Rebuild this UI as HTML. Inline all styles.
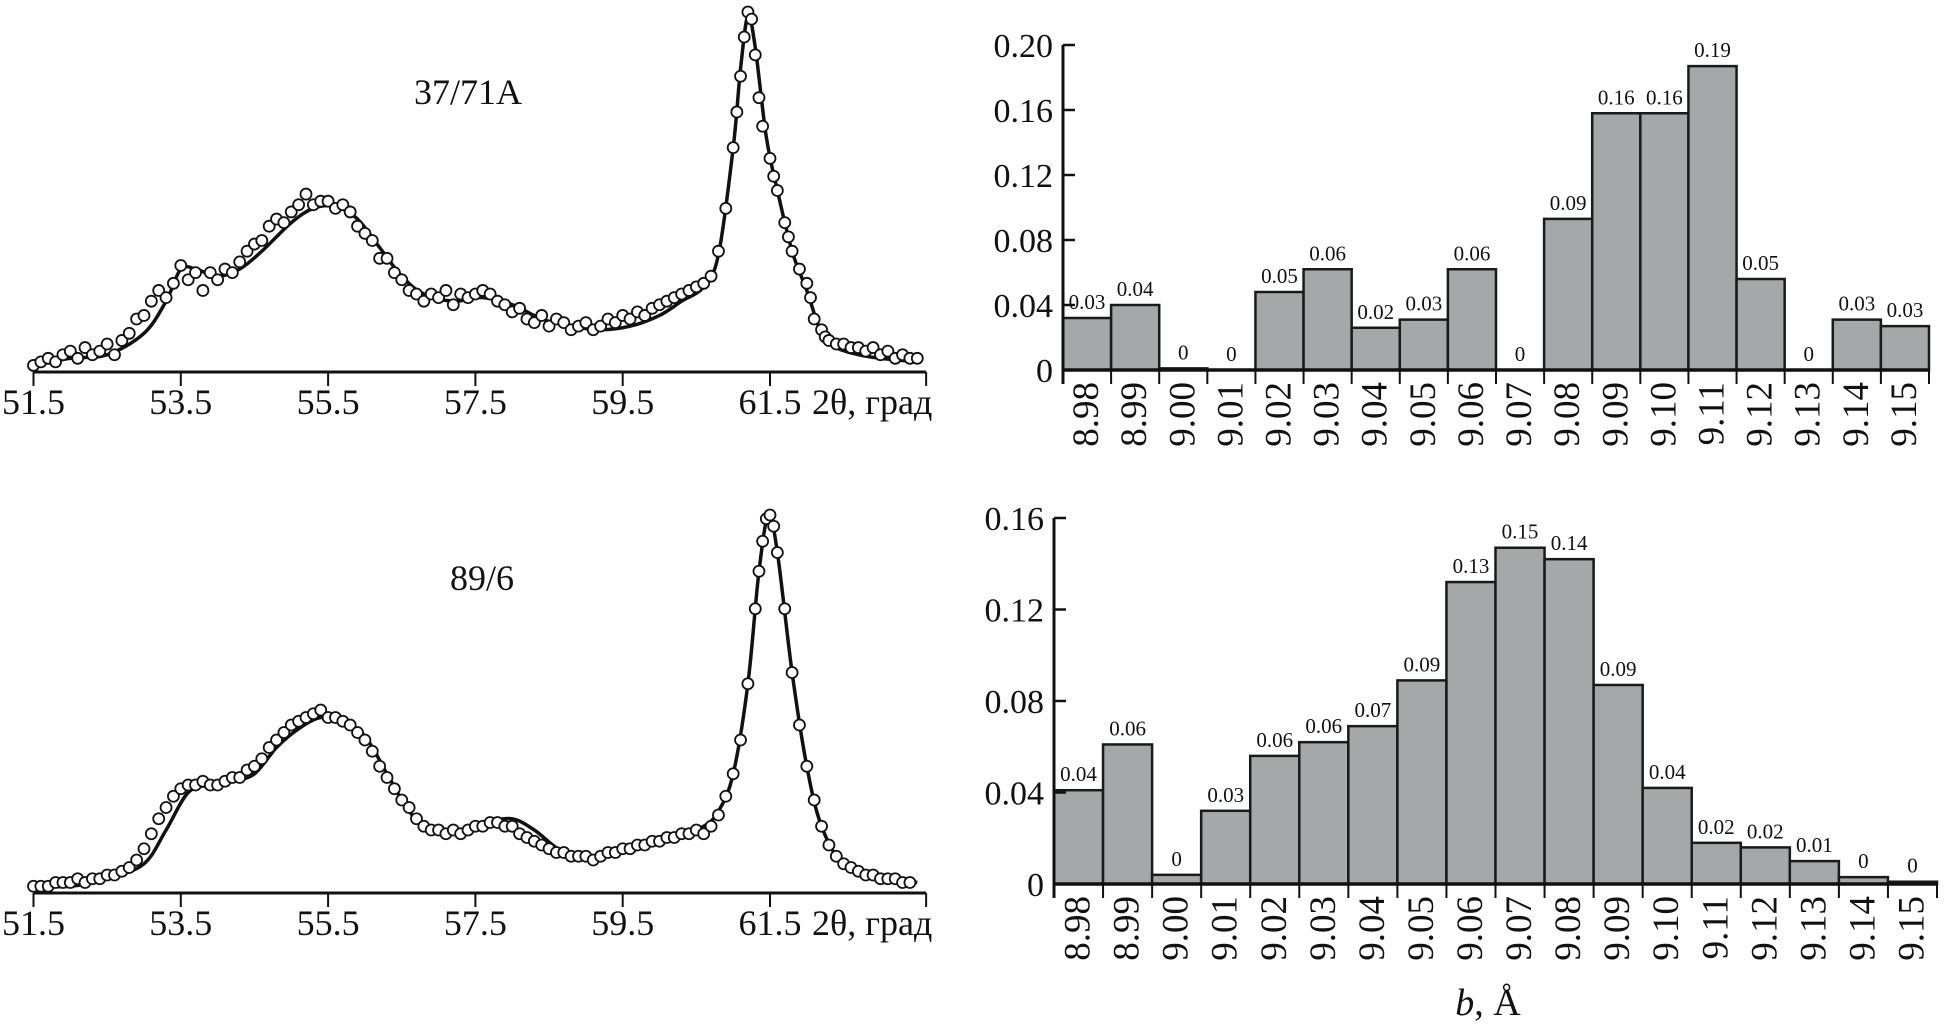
<!DOCTYPE html>
<html><head><meta charset="utf-8">
<style>
html,body{margin:0;padding:0;background:#fff;}
svg{display:block;font-family:"Liberation Serif",serif;}
</style></head>
<body>
<svg id="fig" width="1945" height="1029" viewBox="0 0 1945 1029" xmlns="http://www.w3.org/2000/svg"></svg>
<script>
// ---------- data ----------
const xrdTicks = [51.5, 53.5, 55.5, 57.5, 59.5, 61.5];
const fitTopX = [51.5,52.0,52.5,53.0,53.3,53.5,53.7,54.0,54.3,54.6,55.0,55.3,55.6,55.9,56.2,56.5,56.8,57.2,57.6,58.0,58.4,58.8,59.2,59.6,60.0,60.3,60.6,60.8,61.0,61.1,61.2,61.3,61.45,61.6,61.8,62.0,62.2,62.4,62.7,63.0,63.5];
const fitTopI = [1,3,4,10,19,28,28,26,28,33,41,45,45.5,42,34,26,21,19,20,18,14,12,11,12,15,19,23,32,62,84,99,90,65,50,33,22,10,6,4,3,2];
const fitBotX = [51.5,52.0,52.5,53.0,53.3,53.6,53.9,54.2,54.5,54.8,55.1,55.4,55.7,56.0,56.3,56.6,56.9,57.3,57.7,58.0,58.3,58.7,59.1,59.5,59.9,60.3,60.6,60.8,61.0,61.2,61.35,61.48,61.6,61.8,62.0,62.2,62.5,63.0,63.5];
const fitBotI = [1,1,3,7,16,26,28,29,31,38,43,46,45,41,31,21,16,15,18,19,16,10,9,10,12,15,17,21,31,55,85,100,90,58,33,17,7,4,2];
const obsTopX = [51.5,51.6,51.7,51.8,51.9,52.0,52.1,52.2,52.3,52.4,52.5,52.6,52.7,52.8,52.9,53.0,53.1,53.2,53.3,53.4,53.5,53.6,53.7,53.8,53.9,54.0,54.1,54.2,54.3,54.4,54.5,54.6,54.7,54.8,54.9,55.0,55.1,55.2,55.3,55.4,55.5,55.6,55.7,55.8,55.9,56.0,56.1,56.2,56.3,56.4,56.5,56.6,56.7,56.8,56.9,57.0,57.1,57.2,57.3,57.4,57.5,57.6,57.7,57.8,57.9,58.0,58.1,58.2,58.3,58.4,58.5,58.6,58.7,58.8,58.9,59.0,59.1,59.2,59.3,59.4,59.5,59.6,59.7,59.8,59.9,60.0,60.1,60.2,60.3,60.4,60.5,60.6,60.7,60.8,60.9,61.0,61.05,61.1,61.15,61.2,61.25,61.3,61.35,61.4,61.5,61.55,61.6,61.7,61.75,61.8,61.9,62.0,62.05,62.1,62.2,62.25,62.3,62.4,62.5,62.6,62.7,62.8,62.9,63.0,63.1,63.2,63.3,63.4,63.5];
const obsTopI = [1,2,3,2,4,5,3,6,4,5,7,4,8,10,14,15,19,22,20,24,29,25,27,22,27,25,28,27,30,33,35,36,40,42,41,44,46,49,46,47,47,45,46,44,40,38,36,31,31,27,25,22,21,19,21,20,22,18,21,20,21,22,21,19,18,16,17,14,13,15,12,14,13,11,12,13,11,12,14,13,15,14,16,15,17,18,19,20,21,22,23,24,26,33,45,62,72,82,93,100,98,88,76,68,59,54,50,41,37,33,28,24,20,14,11,9,8,7,7,6,6,5,6,4,5,3,4,3,3];
const obsBotX = [51.5,51.6,51.7,51.8,51.9,52.0,52.1,52.2,52.3,52.4,52.5,52.6,52.7,52.8,52.9,53.0,53.1,53.2,53.3,53.4,53.5,53.6,53.7,53.8,53.9,54.0,54.1,54.2,54.3,54.4,54.5,54.6,54.7,54.8,54.9,55.0,55.1,55.2,55.3,55.4,55.5,55.6,55.7,55.8,55.9,56.0,56.1,56.2,56.3,56.4,56.5,56.6,56.7,56.8,56.9,57.0,57.1,57.2,57.3,57.4,57.5,57.6,57.7,57.8,57.9,58.0,58.1,58.2,58.3,58.4,58.5,58.6,58.7,58.8,58.9,59.0,59.1,59.2,59.3,59.4,59.5,59.6,59.7,59.8,59.9,60.0,60.1,60.2,60.3,60.4,60.5,60.6,60.7,60.8,60.9,61.0,61.1,61.2,61.3,61.35,61.4,61.45,61.5,61.55,61.6,61.7,61.8,61.9,62.0,62.1,62.2,62.3,62.4,62.5,62.6,62.7,62.8,62.9,63.0,63.1,63.2,63.3,63.4,63.5];
const obsBotI = [1,1,1,2,2,2,3,2,3,3,4,4,5,6,8,11,15,19,22,25,27,28,28,29,28,28,29,30,30,32,33,35,38,40,42,44,45,46,47,48,46,46,45,44,42,40,37,33,30,27,24,22,19,17,16,16,15,16,15,16,17,17,18,18,17,17,15,14,13,12,11,10,10,9,9,9,8,9,10,10,11,11,12,12,13,13,14,14,15,15,16,15,17,20,25,31,40,55,75,85,93,99,100,97,90,75,58,44,33,24,17,12,9,7,6,5,4,4,3,3,3,2,2];

const binLabelsTop = ["8.98","8.99","9.00","9.01","9.02","9.03","9.04","9.05","9.06","9.07","9.08","9.09","9.10","9.11","9.12","9.13","9.14","9.15"];
const freqTop = [0.032,0.040,0.001,0,0.048,0.062,0.026,0.031,0.062,0,0.093,0.158,0.158,0.187,0.056,0,0.031,0.027];
const freqTopText = ["0.03","0.04","0","0","0.05","0.06","0.02","0.03","0.06","0","0.09","0.16","0.16","0.19","0.05","0","0.03","0.03"];
const yTicksTop = [0,0.04,0.08,0.12,0.16,0.20];
const yTickTextTop = ["0","0.04","0.08","0.12","0.16","0.20"];

const binLabelsBot = ["8.98","8.99","9.00","9.01","9.02","9.03","9.04","9.05","9.06","9.07","9.08","9.09","9.10","9.11","9.12","9.13","9.14","9.15"];
const freqBot = [0.041,0.061,0.004,0.032,0.056,0.062,0.069,0.089,0.132,0.147,0.142,0.087,0.042,0.018,0.016,0.010,0.003,0.001];
const freqBotText = ["0.04","0.06","0","0.03","0.06","0.06","0.07","0.09","0.13","0.15","0.14","0.09","0.04","0.02","0.02","0.01","0","0"];
const yTicksBot = [0,0.04,0.08,0.12,0.16];
const yTickTextBot = ["0","0.04","0.08","0.12","0.16"];

// ---------- helpers ----------
const NS="http://www.w3.org/2000/svg";
const svg=document.getElementById('fig');
function mk(tag,attrs,parent){const e=document.createElementNS(NS,tag);for(const k in attrs)e.setAttribute(k,attrs[k]);(parent||svg).appendChild(e);return e;}
function smoothPath(pts){
  let d="M"+pts[0][0].toFixed(1)+","+pts[0][1].toFixed(1);
  for(let i=0;i<pts.length-1;i++){
    const p0=pts[Math.max(0,i-1)],p1=pts[i],p2=pts[i+1],p3=pts[Math.min(pts.length-1,i+2)];
    const c1=[p1[0]+(p2[0]-p0[0])/6,p1[1]+(p2[1]-p0[1])/6];
    const c2=[p2[0]-(p3[0]-p1[0])/6,p2[1]-(p3[1]-p1[1])/6];
    d+="C"+c1[0].toFixed(1)+","+c1[1].toFixed(1)+" "+c2[0].toFixed(1)+","+c2[1].toFixed(1)+" "+p2[0].toFixed(1)+","+p2[1].toFixed(1);
  }
  return d;
}

function xrdPanel(name,axisY,i0y,i100y,fitX,fitI,obsX,obsI,title,titleX,titleY){
  const g=mk('g',{});
  
  
  const xs=d=>33.5+(d-51.5)*73.65;
  const ys=v=>i0y-(v/100)*(i0y-i100y);
  const ax=mk('line',{x1:33.5,y1:axisY,x2:xs(63.62),y2:axisY,stroke:'#111','stroke-width':3},g);
  
  
  const tk=xrdTicks.concat([63.62]);
  tk.forEach(t=>{
    const l=mk('line',{x1:xs(t),y1:axisY,x2:xs(t),y2:axisY+14,stroke:'#111','stroke-width':2},g);
    
    
  });
  xrdTicks.forEach(t=>{
    const tx=mk('text',{x:xs(t),y:axisY+42,'font-size':36,'text-anchor':'middle',fill:'#111'},g);
    tx.textContent=t.toFixed(1);
    
    
  });
  const at=mk('text',{x:812,y:axisY+42,'font-size':36,fill:'#111'},g);
  at.textContent='2θ, град';
  
  
  const tt=mk('text',{x:titleX,y:titleY,'font-size':36,'text-anchor':'middle',fill:'#111'},g);
  tt.textContent=title;
  
  
  const fit=mk('path',{d:smoothPath(fitX.map((x,i)=>[xs(x),ys(fitI[i])])),fill:'none',stroke:'#111','stroke-width':3.5},g);
  
  
  obsX.forEach((x,i)=>{
    if(obsI[i]===undefined) return;
    const c=mk('circle',{cx:xs(x),cy:ys(obsI[i]),r:5.5,fill:'#fff',stroke:'#111','stroke-width':1.8},g);
    
    
  });
}

function histPanel(name,axX,y0,yTopVal,yTopPix,xEnd,labels,vals,valText,ticks,tickText,lblTop){
  const g=mk('g',{});
  
  
  const ys=v=>y0-(v/yTopVal)*(y0-yTopPix);
  const n=labels.length, bw=(xEnd-axX)/n;
  const xs=i=>axX+i*bw;
  vals.forEach((v,i)=>{
    const r=mk('rect',{x:xs(i),y:ys(v),width:bw,height:y0-ys(v),fill:'#a6a7a9',stroke:'#1a1a1a','stroke-width':2.5},g);
    
    
    const t=mk('text',{x:xs(i)+bw/2,y:ys(v)-9,'font-size':21,'text-anchor':'middle',fill:'#111'},g);
    t.textContent=valText[i];
    
    
  });
  const ya=mk('line',{x1:axX,y1:ys(ticks[ticks.length-1]),x2:axX,y2:y0+14,stroke:'#111','stroke-width':3},g);
  
  
  const xa=mk('line',{x1:axX,y1:y0,x2:xEnd,y2:y0,stroke:'#111','stroke-width':3.5},g);
  
  
  ticks.forEach((t,i)=>{
    const l=mk('line',{x1:axX,y1:ys(t),x2:axX+12,y2:ys(t),stroke:'#111','stroke-width':2.5},g);
    
    
    const tx=mk('text',{x:axX-10,y:ys(t)+12,'font-size':34,'text-anchor':'end',fill:'#111'},g);
    tx.textContent=tickText[i];
    
    
  });
  for(let i=0;i<=n;i++){
    const l=mk('line',{x1:xs(i),y1:y0,x2:xs(i),y2:y0+14,stroke:'#111','stroke-width':2},g);
    
    
  }
  labels.forEach((lb,i)=>{
    const cx=xs(i)+bw/2+11;
    const t=mk('text',{x:0,y:0,'font-size':37,'text-anchor':'end',fill:'#111',transform:`translate(${cx},${lblTop}) rotate(-90)`},g);
    t.textContent=lb;
    
    
  });
}

xrdPanel('xrd-panel-37-71a',372,369,12,fitTopX,fitTopI,obsTopX,obsTopI,'37/71A',468,104);
xrdPanel('xrd-panel-89-6',893,890,515,fitBotX,fitBotI,obsBotX,obsBotI,'89/6',482,590);
histPanel('histogram-37-71a',1063,370,0.20,45,1929,binLabelsTop,freqTop,freqTopText,yTicksTop,yTickTextTop,382);
histPanel('histogram-89-6',1054,884,0.16,518,1937,binLabelsBot,freqBot,freqBotText,yTicksBot,yTickTextBot,896);

const bt=mk('text',{x:1488,y:1015,'font-size':38,'text-anchor':'middle',fill:'#111'});


const bi=mk('tspan',{'font-style':'italic'},bt);bi.textContent='b';
const br=mk('tspan',{},bt);br.textContent=', Å';
</script>
</body></html>
